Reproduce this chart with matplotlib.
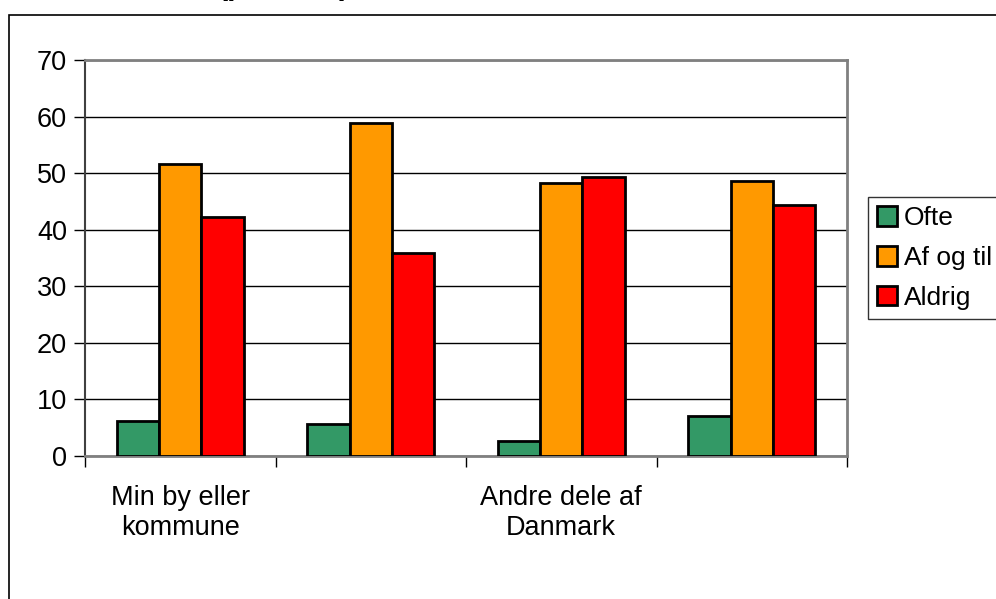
import numpy as np
import matplotlib
matplotlib.use("Agg")
from matplotlib import pyplot as plt
from matplotlib.patches import Rectangle

plt.rcParams['font.family'] = ['Liberation Sans', 'DejaVu Sans']

categories = ["Min by eller\nkommune", "", "Andre dele af\nDanmark", ""]
series = ["Ofte", "Af og til", "Aldrig"]
ofte = [6.2, 5.6, 2.7, 7.1]
af_og_til = [51.7, 58.8, 48.3, 48.6]
aldrig = [42.3, 35.8, 49.3, 44.4]
colors = ["#339966", "#FF9900", "#FF0000"]
title = "(procent)"

W, H = 996, 599
fig = plt.figure(figsize=(W / 100, H / 100), dpi=100)
ax = fig.add_axes([85 / W, 1 - 456 / H, (847 - 85) / W, (456 - 60) / H])

x = np.arange(len(categories))
bw = 0.222
for i, (name, vals) in enumerate(zip(series, [ofte, af_og_til, aldrig])):
    ax.bar(x + (i - 1) * bw, vals, bw, color=colors[i], edgecolor="black",
           linewidth=2, label=name, zorder=3)

ax.set_xlim(-0.5, len(categories) - 0.5)
ax.set_ylim(0, 70)
ax.set_yticks(np.arange(0, 71, 10))
ax.yaxis.grid(True, color="black", linewidth=1)
ax.set_axisbelow(True)

# boundary ticks as majors, labels on minor ticks at centres
ax.set_xticks(np.arange(-0.5, len(categories), 1))
ax.set_xticklabels([])
ax.set_xticks(x, minor=True)
ax.set_xticklabels(categories, minor=True, fontsize=19.5, linespacing=1.2)
ax.tick_params(axis="x", which="major", length=8, width=1, color="black")
ax.tick_params(axis="x", which="minor", length=0, pad=21)
ax.tick_params(axis="y", length=8, width=1, color="black", labelsize=19.5, pad=5)

for s in ["top", "right", "bottom"]:
    ax.spines[s].set_color("#808080")
    ax.spines[s].set_linewidth(2)
ax.spines["left"].set_color("#404040")
ax.spines["left"].set_linewidth(1.5)

leg = fig.legend(loc="upper left", bbox_to_anchor=(868 / W, 1 - 197 / H),
                 fontsize=19, frameon=True, fancybox=False, edgecolor="black",
                 handlelength=0.75, handleheight=0.75, handletextpad=0.25,
                 labelspacing=0.6, borderpad=0.35, borderaxespad=0)
leg.get_frame().set_linewidth(1)
for h in leg.legend_handles:
    h.set_linewidth(2)

# outer chart border (cut off right and bottom)
fig.add_artist(Rectangle((9 / W, -0.1), 1.2, 1.1 - 15 / H, transform=fig.transFigure,
                         fill=False, edgecolor="black", linewidth=1.2, clip_on=False))

fig.text(284 / W, 1 + 6 / H, title, ha="center", va="baseline", fontsize=22,
         fontweight="bold")

fig.savefig("out.png", dpi=100)
